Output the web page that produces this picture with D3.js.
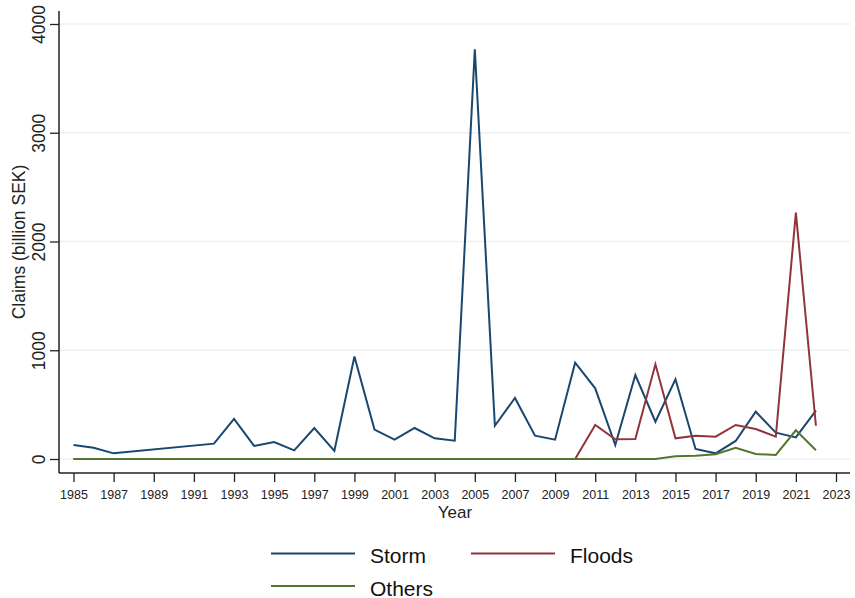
<!DOCTYPE html>
<html>
<head>
<meta charset="utf-8">
<script src="https://cdn.jsdelivr.net/npm/d3@7"></script>
<style>
  html, body { margin: 0; padding: 0; background: #fff; }
  svg { display: block; font-family: "Liberation Sans", Arial, sans-serif; }
</style>
</head>
<body>
<svg id="chart" width="855" height="598"></svg>
<script>
// Insured claims by event type, billion SEK
const stormYears  = [1985, 1986, 1987, 1992, 1993, 1994, 1995, 1996, 1997, 1998, 1999, 2000, 2001, 2002, 2003, 2004, 2005, 2006, 2007, 2008, 2009, 2010, 2011, 2012, 2013, 2014, 2015, 2016, 2017, 2018, 2019, 2020, 2021, 2022];
const stormValues = [129, 104, 52, 141, 368, 120, 156, 80, 285, 74, 943, 270, 178, 285, 190, 168, 3767, 306, 561, 214, 178, 886, 650, 129, 772, 343, 733, 92, 52, 166, 435, 242, 199, 444];

const floodYears  = [1985, 2010, 2011, 2012, 2013, 2014, 2015, 2016, 2017, 2018, 2019, 2020, 2021, 2022];
const floodValues = [0, 0, 313, 181, 184, 871, 190, 214, 205, 313, 276, 205, 2265, 306];

const otherYears  = [1985, 2014, 2015, 2016, 2017, 2018, 2019, 2020, 2021, 2022];
const otherValues = [0, 0, 25, 30, 43, 104, 46, 37, 264, 80];

const xTicks = d3.range(1985, 2024, 2);
const yTicks = [0, 1000, 2000, 3000, 4000];

const seriesNames  = ["Storm", "Floods", "Others"];
const seriesColors = ["#1a476f", "#90353b", "#55752f"];

const series = [
  { name: seriesNames[0], color: seriesColors[0], pts: stormYears.map((yr, i) => [yr, stormValues[i]]) },
  { name: seriesNames[1], color: seriesColors[1], pts: floodYears.map((yr, i) => [yr, floodValues[i]]) },
  { name: seriesNames[2], color: seriesColors[2], pts: otherYears.map((yr, i) => [yr, otherValues[i]]) }
];

const svg = d3.select("#chart");
const x = d3.scaleLinear().domain([1985, 2023]).range([73.5, 836]);
const y = d3.scaleLinear().domain([0, 4000]).range([459, 24]);

const plotLeft = 59, plotRight = 850, plotTop = 11, plotBottom = 473;

// horizontal grid
svg.append("g")
  .selectAll("line")
  .data(yTicks)
  .join("line")
  .attr("x1", plotLeft + 1).attr("x2", plotRight)
  .attr("y1", d => y(d)).attr("y2", d => y(d))
  .attr("stroke", "#eaf2f3").attr("stroke-width", 1.5);

// x axis
const gx = svg.append("g")
  .attr("transform", `translate(0,${plotBottom})`)
  .call(d3.axisBottom(x).tickValues(xTicks).tickFormat(d3.format("d")).tickSize(9).tickPadding(8));
gx.select(".domain").remove();
gx.selectAll(".tick line").attr("stroke", "#222").attr("stroke-width", 1.3);
gx.selectAll(".tick text").attr("font-size", 12.5).attr("fill", "#222").attr("font-family", "Liberation Sans, Arial, sans-serif");

// y axis
const gy = svg.append("g")
  .attr("transform", `translate(${plotLeft},0)`)
  .call(d3.axisLeft(y).tickValues(yTicks).tickFormat(d3.format("d")).tickSize(9));
gy.select(".domain").remove();
gy.selectAll(".tick line").attr("stroke", "#222").attr("stroke-width", 1.3);
gy.selectAll(".tick text")
  .attr("x", null).attr("dy", null)
  .attr("text-anchor", "middle")
  .attr("transform", "translate(-14,0) rotate(-90)")
  .attr("font-size", 17.5).attr("fill", "#222")
  .attr("font-family", "Liberation Sans, Arial, sans-serif");

// axis lines
svg.append("line").attr("x1", plotLeft).attr("x2", plotRight).attr("y1", plotBottom).attr("y2", plotBottom)
  .attr("stroke", "#222").attr("stroke-width", 1.5);
svg.append("line").attr("x1", plotLeft).attr("x2", plotLeft).attr("y1", plotTop).attr("y2", plotBottom)
  .attr("stroke", "#222").attr("stroke-width", 1.5);

// axis titles
svg.append("text")
  .attr("transform", "translate(25,242) rotate(-90)")
  .attr("text-anchor", "middle")
  .attr("font-size", 17.5).attr("fill", "#222")
  .text("Claims (billion SEK)");
svg.append("text")
  .attr("x", 455).attr("y", 518)
  .attr("text-anchor", "middle")
  .attr("font-size", 17).attr("fill", "#222")
  .text("Year");

// series lines
const line = d3.line().x(d => x(d[0])).y(d => y(d[1]));
svg.append("g")
  .selectAll("path")
  .data(series)
  .join("path")
  .attr("d", d => line(d.pts))
  .attr("fill", "none")
  .attr("stroke", d => d.color)
  .attr("stroke-width", 2)
  .attr("stroke-linejoin", "miter");

// legend
const legendPos = [[271, 553.5], [471, 553.5], [271, 586]];
const lg = svg.append("g")
  .selectAll("g")
  .data(series)
  .join("g")
  .attr("transform", (d, i) => `translate(${legendPos[i][0]},${legendPos[i][1]})`);
lg.append("line").attr("x1", 0).attr("x2", 84).attr("y1", 0).attr("y2", 0)
  .attr("stroke", d => d.color).attr("stroke-width", 2);
lg.append("text").attr("x", 99).attr("y", 9.5)
  .attr("font-size", 21).attr("fill", "#111")
  .text(d => d.name);
</script>
</body>
</html>
